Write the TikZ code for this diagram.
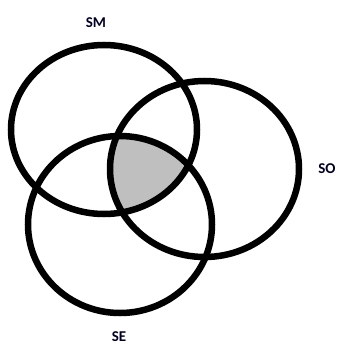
\documentclass[tikz,border=0pt]{standalone}
\usepackage{fontspec}
\setmainfont{Carlito}
\usepackage{tikz}

\begin{document}
\begin{tikzpicture}[
    x=1pt, y=-1pt,
    ring/.style={draw=black, line width=6.5pt},
    setlabel/.style={font=\bfseries\fontsize{15}{17}\selectfont, text=black!85!blue, inner sep=0pt}
]
\useasboundingbox (0,0) rectangle (338,345);
% intersection of all three sets
\begin{scope}
  \clip (104,129.5) ellipse [x radius=93, y radius=84.5];
  \clip (204.5,169) ellipse [x radius=94.5, y radius=88];
  \fill[black!25] (120,224.5) ellipse [x radius=92, y radius=88.5];
\end{scope}
\draw[ring] (104,129.5) ellipse [x radius=93, y radius=84.5];
\draw[ring] (204.5,169) ellipse [x radius=94.5, y radius=88];
\draw[ring] (120,224.5) ellipse [x radius=92, y radius=88.5];
\node[setlabel] (sm) at (96,23) {SM};
\node[setlabel] (so) at (327,169) {SO};
\node[setlabel] (se) at (119,337) {SE};
\end{tikzpicture}
\end{document}
